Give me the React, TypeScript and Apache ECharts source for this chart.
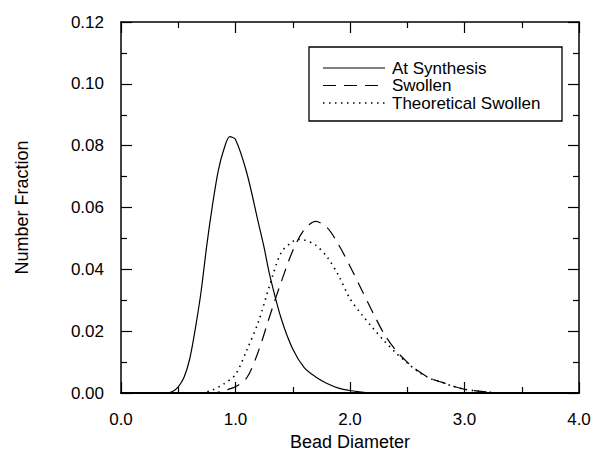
import React, { useEffect, useRef } from "react";
import * as echarts from "echarts";

const xTicks = [0, 1, 2, 3, 4];
const yTicks = [0, 0.02, 0.04, 0.06, 0.08, 0.1, 0.12];

const synthesisX = [0.35, 0.4, 0.45, 0.5, 0.55, 0.6, 0.65, 0.7, 0.75, 0.8, 0.85, 0.9, 0.95, 1.0, 1.1, 1.2, 1.25, 1.3, 1.4, 1.5, 1.6, 1.7, 1.8, 1.9, 2.0, 2.1, 2.2];
const synthesisY = [0, 0, 0.0005, 0.002, 0.005, 0.011, 0.021, 0.033, 0.048, 0.061, 0.072, 0.079, 0.0829, 0.082, 0.071, 0.055, 0.047, 0.038, 0.024, 0.0142, 0.0082, 0.0052, 0.0031, 0.0016, 0.0008, 0.0003, 0];

const swollenX = [0.75, 0.8, 0.9, 1.0, 1.1, 1.2, 1.3, 1.4, 1.5, 1.6, 1.7, 1.8, 1.9, 2.0, 2.1, 2.2, 2.3, 2.4, 2.5, 2.6, 2.7, 2.8, 2.9, 3.0, 3.1, 3.2, 3.3];
const swollenY = [0, 0, 0.0008, 0.002, 0.005, 0.0135, 0.025, 0.036, 0.046, 0.0528, 0.0555, 0.0535, 0.048, 0.041, 0.0335, 0.026, 0.019, 0.0138, 0.01, 0.007, 0.0047, 0.0035, 0.0022, 0.0012, 0.0007, 0.0003, 0];

const theoX = [0.65, 0.7, 0.8, 0.9, 1.0, 1.1, 1.2, 1.3, 1.4, 1.5, 1.55, 1.6, 1.7, 1.8, 1.9, 2.0, 2.1, 2.2, 2.3, 2.4, 2.5, 2.6, 2.7, 2.8, 2.9, 3.0, 3.1, 3.2, 3.3];
const theoY = [0, 0, 0.001, 0.003, 0.006, 0.014, 0.023, 0.035, 0.0455, 0.049, 0.0497, 0.0495, 0.0478, 0.044, 0.038, 0.0305, 0.0255, 0.021, 0.0168, 0.013, 0.0097, 0.0068, 0.0047, 0.0035, 0.0022, 0.0012, 0.0007, 0.0003, 0];

const seriesNames = ["At Synthesis", "Swollen", "Theoretical Swollen"];

const FONT = "'Liberation Sans', Arial, Helvetica, sans-serif";

function pairs(xs: number[], ys: number[]) {
  return xs.map((x, i) => [x, ys[i]]);
}

export default function App() {
  const ref = useRef<HTMLDivElement>(null);
  useEffect(() => {
    document.body.style.margin = "0";
    const chart = echarts.init(ref.current!, null, { renderer: "svg" });
    const axisLine = { show: true, onZero: false, lineStyle: { color: "#000", width: 1.5 } };
    const tick = { show: true, inside: true, length: 11, lineStyle: { color: "#000", width: 1.2 } };
    const minor = { show: true, splitNumber: 2, length: 6, lineStyle: { color: "#000", width: 1.2 } };
    const lineStyles: any[] = [
      { color: "#000", width: 1.2, type: "solid" },
      { color: "#000", width: 1.2, type: [13, 8] },
      { color: "#000", width: 1.6, type: [1.5, 4.5] },
    ];
    const datas = [pairs(synthesisX, synthesisY), pairs(swollenX, swollenY), pairs(theoX, theoY)];
    const legendRows = [68, 85.5, 103];
    const legendGraphics: any[] = [
      {
        type: "rect",
        shape: { x: 309, y: 47, width: 253, height: 74 },
        style: { fill: "#fff", stroke: "#000", lineWidth: 1.3 },
        z: 100,
      },
    ];
    seriesNames.forEach((name, i) => {
      legendGraphics.push({
        type: "line",
        shape: { x1: 323, y1: legendRows[i], x2: 385, y2: legendRows[i] },
        style: { stroke: "#000", lineWidth: lineStyles[i].width, lineDash: i === 0 ? null : lineStyles[i].type },
        z: 101,
      });
      legendGraphics.push({
        type: "text",
        x: 392,
        y: legendRows[i],
        style: { text: name, font: `17px ${FONT}`, fill: "#000", verticalAlign: "middle" },
        z: 101,
      });
    });
    chart.setOption({
      animation: false,
      backgroundColor: "#fff",
      textStyle: { fontFamily: FONT },
      grid: { left: 121, right: 15, top: 22, bottom: 63 },
      xAxis: [
        {
          type: "value",
          min: xTicks[0],
          max: xTicks[xTicks.length - 1],
          interval: 1,
          name: "Bead Diameter",
          nameLocation: "middle",
          nameGap: 37,
          nameTextStyle: { fontSize: 18, color: "#000", fontFamily: FONT },
          axisLine: { ...axisLine, lineStyle: { color: "#000", width: 2 } },
          axisTick: tick,
          minorTick: minor,
          splitLine: { show: false },
          axisLabel: { fontSize: 17, color: "#000", margin: 18, formatter: (v: number) => v.toFixed(1) },
        },
        {
          type: "value",
          position: "top",
          min: xTicks[0],
          max: xTicks[xTicks.length - 1],
          interval: 1,
          axisLine,
          axisTick: tick,
          minorTick: minor,
          splitLine: { show: false },
          axisLabel: { show: false },
        },
      ],
      yAxis: [
        {
          type: "value",
          min: yTicks[0],
          max: yTicks[yTicks.length - 1],
          interval: 0.02,
          name: "Number Fraction",
          nameLocation: "middle",
          nameGap: 90,
          nameTextStyle: { fontSize: 18, color: "#000", fontFamily: FONT },
          axisLine,
          axisTick: tick,
          minorTick: minor,
          splitLine: { show: false },
          axisLabel: { fontSize: 17, color: "#000", margin: 17, formatter: (v: number) => v.toFixed(2) },
        },
        {
          type: "value",
          position: "right",
          min: yTicks[0],
          max: yTicks[yTicks.length - 1],
          interval: 0.02,
          axisLine,
          axisTick: tick,
          minorTick: minor,
          splitLine: { show: false },
          axisLabel: { show: false },
        },
      ],
      series: seriesNames.map((name, i) => ({
        name,
        type: "line",
        data: datas[i],
        showSymbol: false,
        smooth: 0.3,
        lineStyle: lineStyles[i],
        itemStyle: { color: "#000" },
        z: 3 - i,
      })),
      graphic: legendGraphics,
    });
    return () => chart.dispose();
  }, []);
  return <div ref={ref} style={{ width: 594, height: 456 }} />;
}
